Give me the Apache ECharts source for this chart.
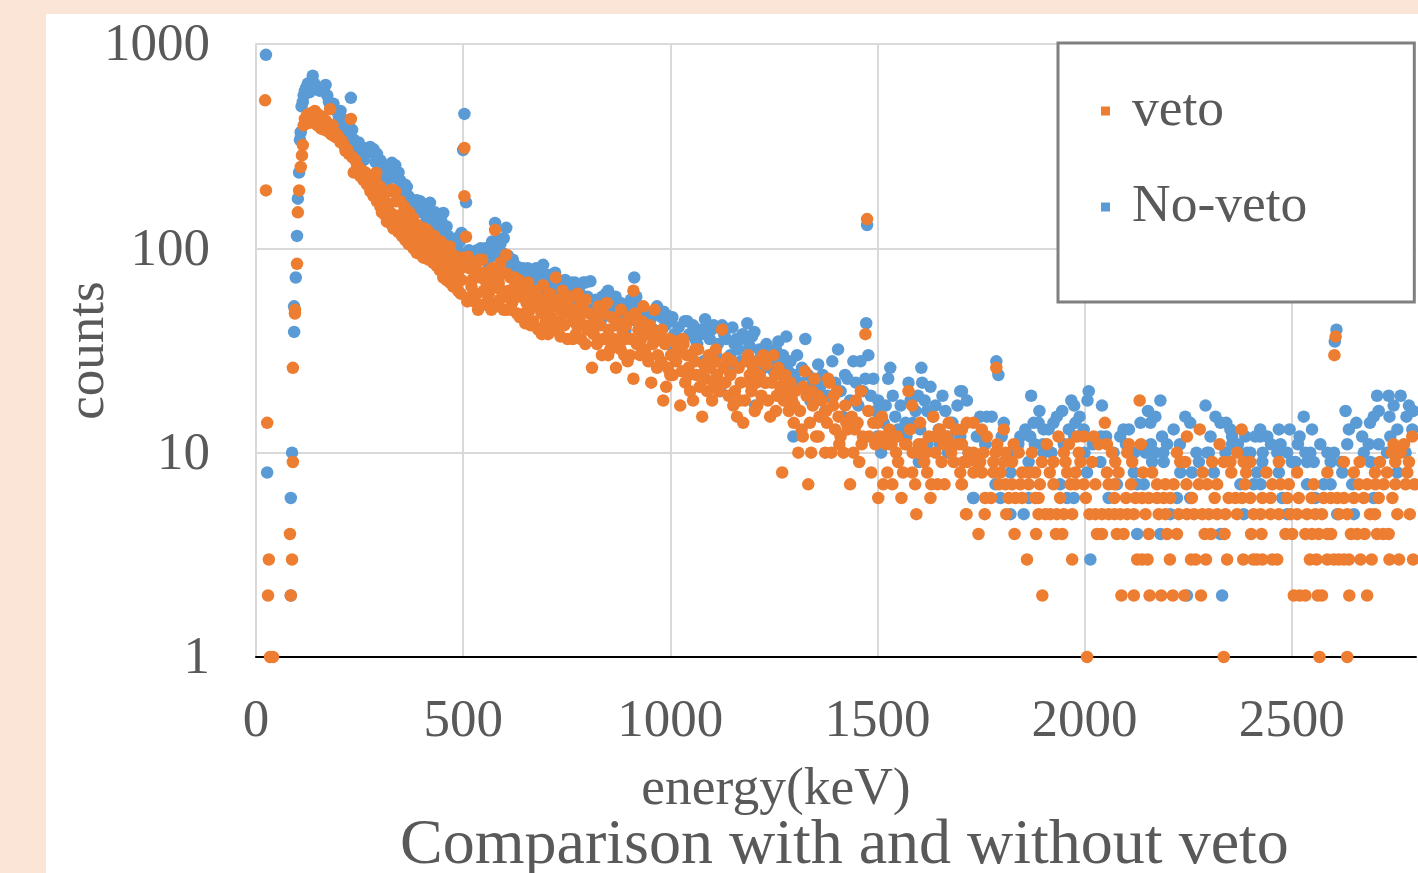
<!DOCTYPE html>
<html><head><meta charset="utf-8">
<style>
html,body{margin:0;padding:0;width:1418px;height:873px;overflow:hidden;background:#FBE5D6}
#chart{position:absolute;left:46px;top:14px;width:1372px;height:859px;background:#fff}
</style>
<script src="https://cdn.jsdelivr.net/npm/echarts@6/dist/echarts.min.js"></script>
</head><body><div id="chart"></div>
<script>
const chartTitle='Comparison with and without veto', xName='energy(keV)', yName='counts';
// No-veto: low energy to 1700 keV as [energy,counts]
const noVetoRise=[[24,885],[27,8],[84,2],[84,6],[87,10],[92,39],[92,52],[96,72],[99,115],[101,175],[104,235],[106,340],[108,370],[110,495],[113,520],[115,560],[118,590],[121,610],[125,640],[129,580],[133,650],[137,700],[141,640],[145,610],[149,600],[154,590],[158,610],[163,600],[168,630],[172,560],[176,520],[180,500],[187,510],[195,470],[200,440]];
const noVetoFall=[[204,470],[208,430],[212,400],[216,385],[220,370],[224,360],[229,545],[232,380],[236,340],[240,320],[244,300],[248,330],[252,290],[256,280],[260,270],[264,300],[268,310],[272,295],[276,313],[280,300],[284,305],[288,265],[292,290],[296,250],[300,270],[304,245],[308,235],[312,225],[316,210],[320,255],[324,250],[328,262],[332,240],[336,255],[340,220],[344,235],[348,215],[352,200],[356,190],[360,205],[364,200],[368,180],[372,175],[376,165],[380,170],[384,155],[388,172],[392,160],[396,170],[400,150],[404,165],[408,158],[412,140],[416,150],[420,167],[424,145],[428,138],[432,150],[436,130],[440,140],[444,125],[448,135],[452,149],[456,120],[460,128],[464,115],[468,105],[472,110],[476,98],[480,102],[484,112],[488,97],[492,108],[496,119],[500,92],[500,303],[503,455],[507,168],[510,90],[514,98],[518,88],[522,92],[526,85],[530,95],[534,98],[538,92],[542,100],[546,88],[550,94],[554,100],[558,86],[562,96],[566,102],[570,108],[574,92],[577,133],[582,98],[586,110],[590,105],[594,95],[598,112],[604,126],[608,92],[612,84],[616,80],[620,88],[624,76],[628,82],[632,72],[636,78],[640,70],[644,80],[648,66],[652,74],[656,80],[660,70],[664,78],[668,66],[672,72],[676,80],[680,68],[684,76],[688,62],[693,83],[698,70],[702,60],[706,74],[710,66],[714,58],[718,70],[722,76],[726,62],[730,68],[734,56],[738,66],[742,60],[746,70],[750,55],[754,64],[758,58],[762,68],[766,60],[770,68],[775,54],[780,62],[785,52],[790,68],[795,68],[800,58],[807,69],[812,50],[816,46],[820,56],[824,48],[828,54],[832,44],[836,58],[840,50],[845,60],[850,62],[855,52],[860,56],[864,46],[868,58],[872,42],[876,50],[880,54],[884,46],[888,48],[892,40],[896,52],[900,44],[905,56],[909,50],[913,72],[918,58],[922,46],[926,52],[930,42],[935,40],[940,48],[945,38],[950,44],[955,46],[960,40],[968,52],[972,48],[976,36],[980,46],[984,49],[988,42],[992,47],[996,34],[1000,44],[1005,46],[1010,38],[1015,32],[1020,41],[1025,36],[1030,34],[1035,44],[1041,44],[1046,38],[1050,30],[1055,42],[1060,36],[1065,34],[1070,40],[1075,38],[1080,28],[1084,45],[1090,42],[1095,36],[1100,40],[1105,42],[1110,30],[1115,34],[1121,20],[1125,42],[1130,38],[1135,36],[1140,27],[1145,30],[1150,41],[1155,34],[1160,36],[1165,32],[1170,28],[1175,38],[1180,36],[1186,43],[1192,33],[1197,37],[1203,39],[1205,17],[1210,28],[1215,32],[1220,30],[1226,26],[1232,34],[1238,30],[1244,28],[1250,25],[1255,32],[1261,35],[1266,27],[1272,30],[1280,37],[1285,25],[1290,28],[1297,12],[1300,24],[1306,30],[1312,22],[1318,26],[1326,36],[1332,24],[1338,18],[1344,22],[1350,20],[1357,27],[1362,21],[1368,24],[1374,16],[1380,19],[1391,28],[1398,22],[1405,32],[1411,20],[1416,15],[1422,24],[1428,23],[1434,18],[1442,28],[1448,22],[1454,17],[1459,28],[1465,20],[1471,23],[1475,130],[1473,43],[1478,30],[1484,19],[1490,23],[1496,16],[1502,18],[1509,10],[1515,14],[1520,17],[1526,23],[1531,26],[1537,19],[1543,15],[1550,13],[1556,17],[1562,12],[1568,14],[1575,22],[1580,18],[1586,14],[1592,16],[1598,19],[1603,13],[1608,22],[1606,26],[1614,18],[1620,16],[1628,21],[1634,15],[1640,17],[1648,13],[1657,19],[1664,16],[1670,12],[1676,14],[1681,14],[1687,11],[1693,17],[1700,20]];
const noVetoTail=[[1704,20],[1716,18],[1732,6],[1748,15],[1764,15],[1776,15],[1787,28],[1792,24],[1805,14],[1871,19],[1891,16],[1889,14],[1877,14],[1946,16],[1933,15],[1925,14],[1968,18],[1975,17],[1988,15],[1978,14],[2010,20],[2007,18],[2042,17],[1998,13],[1962,13],[1857,13],[1845,12],[1869,12],[1901,13],[1913,13],[2094,13],[2107,13],[2086,12],[2052,12],[2135,14],[2153,16],[2171,15],[2159,14],[2183,18],[2215,13],[2187,12],[2243,15],[2255,14],[2199,11],[2292,17],[2316,15],[2342,14],[2328,14],[2304,12],[2352,13],[2356,12],[2356,11],[2388,12],[2424,13],[2424,12],[2412,12],[2441,12],[2469,13],[2495,13],[2473,11],[2519,12],[2515,11],[2529,15],[2549,13],[2569,11],[2533,10],[2602,10],[2586,10],[2608,40],[2604,35],[2630,16],[2656,14],[2638,13],[2634,11],[2670,12],[2686,11],[2674,10],[2689,14],[2698,15],[2710,16],[2706,19],[2734,19],[2763,19],[2783,17],[2746,17],[2736,15],[2777,15],[2793,16],[2755,13],[2738,12],[2791,13]];
const noVetoLower=[[1500,12],[1530,11],[1570,12],[1600,9],[1620,11],[1650,11],[1670,10],[1700,12],[1720,10],[1740,12],[1760,11],[1800,12],[1820,10],[1840,11],[1880,11],[1900,11],[1920,10],[1950,11],[1975,12],[2000,10],[2020,11],[2040,12],[2070,10],[2100,11],[2120,10],[2160,11],[2190,10],[2230,11],[2270,10],[2300,10],[2340,10],[2370,11],[2400,10],[2430,10],[2450,11],[2500,9],[2545,10],[2620,9],[2710,11],[2730,10],[2775,10]];
const noVetoAt10=[1901,2147,2171,2296,2392,2465,2489];
const noVetoAt9=[1865,2038,2163,2191,2276,2429,2509,2537,2553,2594,2690];
const noVetoAt8=[1821,2006,2119,2231,2259,2312,2416,2469,2622,2755];
const noVetoAt7=[1785,1941,2078,2127,2143,2376,2408,2425,2537,2577,2594,2646];
const noVetoAt6=[1731,1797,1865,1958,1974,2058,2223,2255,2477,2557,2698];
const noVetoAt5=[1821,1853,2207,2384,2489,2610,2650];
const noVetoAt4=[2127,2183,2328];
const noVetoAt3=[2014];
const noVetoAt2=[2247,2332];
// veto
const vetoRise=[[22,530],[24,192],[27,14],[31,3],[29,2],[34,1],[41,1],[82,4],[87,3],[84,2],[89,9],[89,26],[94,48],[94,50],[99,84],[101,150],[104,192],[108,250],[111,285],[113,320],[115,400],[118,430],[121,420],[124,450],[127,410],[130,440],[134,460],[136,430],[139,460],[142,470],[145,440],[148,400],[151,450],[154,430],[157,385],[160,440],[163,410],[166,380],[169,420],[172,375],[175,390],[179,480],[182,360],[185,400],[188,370],[192,350],[196,360],[200,345],[204,330],[208,335],[212,320],[216,300],[220,305],[224,290],[229,430],[232,280],[236,235],[240,270],[244,255],[248,240],[252,225],[256,240],[260,215],[264,235],[268,225],[272,205],[276,190],[280,225],[284,180],[288,215],[292,170],[296,190],[300,160],[304,150],[308,175],[312,145],[316,135],[320,165],[324,150],[328,130],[332,125],[336,190],[340,135],[344,120],[348,145],[352,115],[356,130],[360,110],[364,120],[368,105],[372,135],[376,125],[380,100],[384,115],[388,95],[392,110],[396,120],[400,105],[404,90],[408,112],[412,100],[416,88],[420,95],[424,105],[428,85],[432,98],[436,82],[440,92],[444,78],[448,100],[452,72],[456,88],[460,70],[464,95],[468,68],[472,82],[476,65],[480,90],[484,75],[488,62],[492,85],[496,70],[503,310],[503,180],[507,114],[510,55],[514,80],[518,58],[522,70],[526,55],[530,82],[534,60],[538,53],[542,72],[546,88],[550,62],[554,53],[558,75],[562,60],[566,52],[570,80],[574,65],[577,123],[582,52],[586,68],[590,85],[594,62],[598,50],[604,93]];
const vetoMid=[[605,50],[606,75],[610,62],[614,72],[618,54],[622,60],[626,66],[630,48],[634,70],[637,46],[641,58],[645,64],[650,43],[653,54],[657,68],[661,50],[665,60],[669,44],[673,56],[677,62],[681,40],[685,52],[689,48],[693,66],[697,42],[701,55],[705,38],[709,60],[713,46],[717,52],[720,40],[724,72],[728,56],[732,44],[736,50],[740,62],[744,42],[748,54],[752,36],[756,48],[760,58],[764,44],[768,50],[772,38],[776,60],[780,46],[784,36],[788,52],[792,42],[796,56],[800,40],[804,48],[811,26],[815,38],[819,46],[823,34],[827,52],[831,42],[835,30],[839,48],[843,36],[847,54],[851,40],[855,32],[859,46],[863,36],[869,26],[873,44],[877,34],[881,50],[885,38],[889,30],[893,42],[897,28],[901,46],[905,36],[911,23],[911,62],[915,48],[919,34],[923,40],[927,30],[931,44],[935,52],[939,32],[943,38],[947,28],[951,42],[954,22],[958,34],[962,50],[966,36],[970,30],[974,38],[978,28],[983,18],[987,34],[990,21],[994,26],[998,36],[1002,30],[1006,24],[1010,35],[1014,28],[1018,32],[1024,17],[1028,25],[1032,34],[1036,22],[1040,30],[1044,26],[1048,20],[1055,18],[1059,28],[1063,24],[1067,32],[1071,21],[1077,15],[1081,27],[1085,23],[1089,20],[1093,30],[1097,26],[1101,18],[1105,22],[1109,28],[1113,24],[1117,20],[1125,40],[1129,26],[1133,22],[1137,29],[1141,19],[1145,24],[1152,17],[1156,20],[1161,15],[1165,26],[1170,22],[1176,14],[1180,18],[1184,28],[1188,30],[1192,24],[1196,20],[1200,26],[1204,16],[1208,22],[1212,28],[1216,24],[1220,19],[1224,30],[1228,22],[1232,27],[1236,18],[1241,15],[1245,22],[1249,30],[1253,24],[1257,19],[1261,26],[1265,21],[1270,8],[1274,18],[1278,24],[1282,20],[1286,16],[1290,22],[1294,18],[1298,14],[1302,20],[1309,10],[1313,16],[1317,13],[1321,21],[1325,25],[1329,19],[1333,7],[1337,14],[1340,10],[1344,17],[1348,23],[1352,12],[1356,19],[1360,15],[1366,18],[1374,10],[1378,14],[1381,23],[1384,22],[1389,10],[1393,17],[1398,13],[1402,20],[1406,15],[1411,12],[1418,10],[1422,17],[1428,13],[1434,7],[1438,15],[1442,10],[1448,18],[1452,14],[1456,9],[1460,20],[1465,12],[1471,38],[1475,139],[1478,16],[1485,8],[1490,14],[1495,11],[1502,6],[1506,12],[1511,15],[1514,7],[1520,11],[1524,8],[1529,13],[1536,7],[1540,12],[1545,10],[1550,9],[1558,6],[1562,8],[1567,11],[1575,20],[1579,13],[1584,8],[1584,17],[1591,7],[1594,5],[1598,10],[1603,14],[1608,11],[1613,9],[1620,8],[1624,12],[1628,6],[1630,7],[1635,15],[1640,10],[1645,7],[1650,13],[1655,9],[1662,7],[1667,12],[1672,14],[1678,10],[1684,9],[1690,13],[1696,11],[1703,7],[1708,9],[1715,5],[1787,26],[2133,18],[2603,30],[2606,37]];
const vetoBandEdges=[[268,205],[274,200],[290,234],[300,200],[310,185],[316,149],[322,190],[328,194],[334,145],[338,170],[348,170],[346,140],[355,127],[358,160],[362,135],[370,150],[374,118],[379,141],[386,112],[390,130],[398,98],[403,91],[406,125],[413,123],[418,105],[422,92],[430,115],[434,95],[438,84],[446,108],[452,81],[456,100],[462,78],[468,102],[474,74],[478,92],[485,68],[490,78],[494,60],[498,90],[512,91],[520,65],[528,76],[536,50],[540,88],[548,76],[556,68],[560,56],[568,50],[572,72],[582,64],[588,56],[592,76],[600,58],[616,50],[624,72],[632,58],[640,66],[648,48],[655,60],[663,42],[670,52],[680,58],[690,38],[700,44],[708,50],[716,42],[735,37],[745,48],[755,56],[765,36],[775,42],[785,55],[795,34],[808,42],[825,42],[838,36],[850,30],[868,42],[880,32],[892,36],[903,30],[920,44],[930,36],[942,30],[955,40],[968,26],[980,40],[1000,24],[1012,30],[1030,36],[1045,24],[1060,32],[1075,24],[1090,28],[1110,32],[1125,22],[1148,28],[1168,18],[1190,22],[1210,17],[1232,22],[1255,16],[1275,22],[1300,17],[1320,12],[1342,20],[1358,12],[1376,16],[1395,19],[1408,11],[1425,14],[1445,13],[1462,11],[1480,12],[1500,14],[1518,12],[1534,11],[1548,12],[1570,11],[1585,10],[1600,11],[1618,10],[1640,12],[1660,11],[1680,11]];
const vetoAt14=[1716,1732,2049];
const vetoAt13=[1704,1752,1805,2278,2379];
const vetoAt12=[1764,1937,1982,1998,2022,2247,2791];
const vetoAt11=[1704,1789,1829,1909,1962,2034,2054,2107,2136,2326,2746,2771];
const vetoAt10=[1720,1732,1756,1785,1809,1841,1873,1950,1986,2066,2103,2223,2368,2742,2763];
const vetoAt9=[1716,1740,1748,1780,1805,1825,1897,1925,1954,1990,2018,2074,2115,2231,2243,2308,2336,2352,2384,2400,2469,2626,2664,2713,2750,2783];
const vetoAt8=[1700,1732,1752,1780,1797,1849,1865,1881,1916,1958,1978,2054,2082,2141,2163,2285,2354,2390,2439,2513,2586,2650,2701,2730,2779];
const vetoAt7=[1704,1793,1809,1825,1845,1865,1892,1925,1966,1978,1998,2026,2058,2072,2112,2175,2195,2215,2246,2276,2296,2320,2387,2453,2473,2493,2553,2662,2682,2702,2722,2750,2775,2796];
const vetoAt6=[1760,1774,1817,1833,1849,1881,1889,1941,2003,2072,2100,2123,2139,2155,2175,2191,2207,2259,2314,2348,2364,2380,2400,2429,2449,2489,2517,2548,2577,2594,2610,2626,2650,2674,2710,2743];
const vetoAt5=[1714,1759,1811,1889,1905,1917,1933,1950,1970,2012,2026,2042,2058,2072,2086,2103,2119,2147,2179,2195,2227,2247,2264,2284,2300,2320,2340,2368,2408,2425,2449,2469,2497,2513,2537,2557,2573,2614,2634,2689,2701,2755,2785];
const vetoAt4=[1744,1831,1883,1931,1946,2030,2042,2078,2094,2155,2199,2223,2290,2305,2338,2402,2427,2485,2501,2533,2549,2565,2586,2595,2643,2658,2676,2706,2721,2734];
const vetoAt3=[1861,1970,2127,2139,2152,2206,2257,2268,2293,2344,2383,2407,2416,2429,2453,2465,2544,2560,2586,2602,2614,2626,2638,2666,2693,2736,2759,2793];
const vetoAt2=[1898,2089,2119,2157,2185,2213,2241,2281,2505,2519,2533,2563,2573,2639,2682];
const vetoAt1=[2006,2336,2567,2634];

const row=(list,c)=>list.map(e=>[e,c]);
const noVeto=[].concat(noVetoRise,noVetoFall,noVetoTail,noVetoLower,row(noVetoAt10,10),row(noVetoAt9,9),row(noVetoAt8,8),row(noVetoAt7,7),row(noVetoAt6,6),row(noVetoAt5,5),row(noVetoAt4,4),row(noVetoAt3,3),row(noVetoAt2,2));
const veto=[].concat(vetoRise,vetoMid,vetoBandEdges,row(vetoAt14,14),row(vetoAt13,13),row(vetoAt12,12),row(vetoAt11,11),row(vetoAt10,10),row(vetoAt9,9),row(vetoAt8,8),row(vetoAt7,7),row(vetoAt6,6),row(vetoAt5,5),row(vetoAt4,4),row(vetoAt3,3),row(vetoAt2,2),row(vetoAt1,1));

const font='"Liberation Serif"', ink='#595959', gridC='#D9D9D9';
const plain=v=>String(v);
const chart=echarts.init(document.getElementById('chart'),null,{renderer:'canvas'});
chart.setOption({
  animation:false,
  backgroundColor:'#fff',
  textStyle:{fontFamily:font,color:ink},
  title:{text:chartTitle,left:354,top:800,padding:0,textStyle:{fontFamily:font,fontSize:64,fontWeight:'normal',color:ink}},
  grid:{left:210,top:30,width:1160,height:613,outerBoundsMode:'none'},
  legend:{
    orient:'vertical',left:1012,top:29,
    data:[{name:'veto',icon:'rect'},{name:'No-veto',icon:'rect'}],
    itemWidth:9,itemHeight:9,itemGap:42,
    padding:[41,107,68,43],
    borderColor:'#808080',borderWidth:3,backgroundColor:'#fff',
    selectedMode:false,
    textStyle:{fontFamily:font,fontSize:53.5,color:ink,padding:[0,0,0,17]}
  },
  xAxis:{
    type:'value',min:0,max:2800,interval:500,
    name:xName,nameLocation:'middle',nameGap:106,nameMoveOverlap:false,
    nameTextStyle:{fontFamily:font,fontSize:53.5,color:ink,padding:[0,120,0,0]},
    axisLine:{show:true,onZero:false,lineStyle:{color:'#000',width:2}},
    axisTick:{show:false},
    axisLabel:{fontFamily:font,fontSize:53,color:ink,margin:39,showMaxLabel:false,formatter:plain},
    splitLine:{show:true,showMaxLine:false,lineStyle:{color:gridC,width:2}}
  },
  yAxis:{
    type:'log',logBase:10,min:1,max:1000,
    name:yName,nameLocation:'middle',nameGap:140,nameRotate:90,nameMoveOverlap:false,
    nameTextStyle:{fontFamily:font,fontSize:53,color:ink},
    axisLine:{show:true,lineStyle:{color:gridC,width:2}},
    axisTick:{show:false},
    minorTick:{show:false},
    axisLabel:{color:ink,margin:46,formatter:v=>'{t|'+v+'}',rich:{t:{fontFamily:font,fontSize:53,color:ink,padding:[5,0,0,0]}}},
    splitLine:{show:true,lineStyle:{color:gridC,width:2}}
  },
  series:[
    {name:'No-veto',type:'scatter',data:noVeto,symbol:'circle',symbolSize:12.5,clip:false,itemStyle:{color:'#5B9BD5',opacity:1}},
    {name:'veto',type:'scatter',data:veto,symbol:'circle',symbolSize:12.5,clip:false,itemStyle:{color:'#ED7D31',opacity:1}}
  ]
});
</script></body></html>
